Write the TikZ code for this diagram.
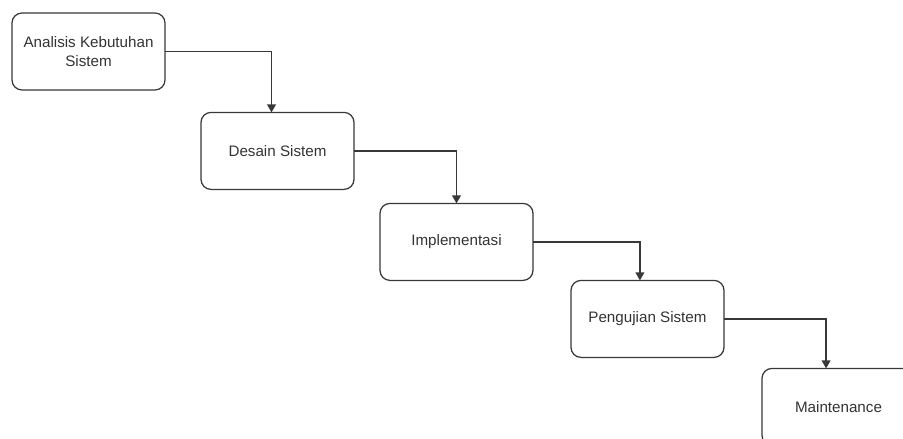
\documentclass[tikz,border=0pt]{standalone}
\usepackage{fontspec}
\setmainfont{Liberation Sans}
\usetikzlibrary{positioning,arrows.meta}
\tikzset{phase box/.style={draw=black!78,line width=0.9pt,rounded corners=0.25cm,minimum width=3.825cm,minimum height=1.925cm,align=center,text=black!80,font=\fontsize{10.8}{13.7}\selectfont,inner sep=2pt,outer sep=0pt},
flow/.style={line width=0.9pt,draw=black!78,-{Triangle[width=0.22cm,length=0.2cm]}}}

\begin{document}
\begin{tikzpicture}
\clip (0,0) rectangle (22.575,-10.975);
\node[phase box,anchor=north west] (A) at (0.3,-0.325) {Analisis Kebutuhan\\Sistem};
\node[phase box] (B) [below right=0.56cm and 0.9cm of A] {Desain Sistem};
\node[phase box] (C) [below right=0.35cm and 0.65cm of B] {Implementasi};
\node[phase box] (D) [below right=0cm and 0.95cm of C] {Pengujian Sistem};
\node[phase box] (E) [below right=0.275cm and 0.95cm of D] {Maintenance};
\draw[flow] (A.east) -| ([xshift=-0.15cm]B.north);
\draw[flow] (B.east) -| (C.north);
\draw[flow] (C.east) -| ([xshift=-0.19cm]D.north);
\draw[flow] (D.east) -| ([xshift=-0.31cm]E.north);
\end{tikzpicture}
\end{document}
